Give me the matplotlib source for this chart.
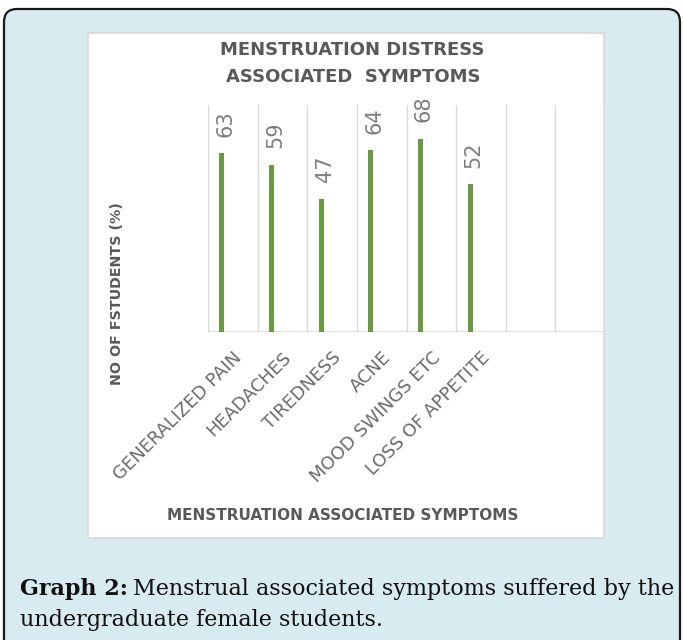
import matplotlib
matplotlib.use("Agg")
import matplotlib.pyplot as plt
from matplotlib.patches import FancyBboxPatch, Rectangle
import numpy as np

# chart data
symptoms = ["GENERALIZED PAIN", "HEADACHES", "TIREDNESS", "ACNE",
            "MOOD SWINGS ETC", "LOSS OF APPETITE"]
percent = [63, 59, 47, 64, 68, 52]
n_slots = 8  # excel left two empty categories on the right

W, H = 683, 640
fig = plt.figure(figsize=(W / 100, H / 100), dpi=100)
fig.patch.set_facecolor("white")

def px(x, y, w, h):  # pixel box (top-left origin) -> figure fraction
    return [x / W, 1 - (y + h) / H, w / W, h / H]

# light blue rounded frame
bg = fig.add_axes([0, 0, 1, 1])
bg.set_xlim(0, W)
bg.set_ylim(H, 0)
bg.axis("off")
bg.add_patch(FancyBboxPatch((4, 9), 676, 680, boxstyle="round,pad=0,rounding_size=13",
                            facecolor="#d7ebf0", edgecolor="#1a1a1a", linewidth=1.6))
# white chart panel
bg.add_patch(Rectangle((88, 33), 516, 505, facecolor="white", edgecolor="#d9d9d9", linewidth=1.2))

grey = "#595959"
bg.text(352, 50, "MENSTRUATION DISTRESS", ha="center", va="center", fontsize=13,
        fontweight="bold", color=grey)
bg.text(353, 77, "ASSOCIATED  SYMPTOMS", ha="center", va="center", fontsize=13,
        fontweight="bold", color=grey)
bg.text(117, 294, "NO OF FSTUDENTS (%)", ha="center", va="center", rotation=90,
        fontsize=10.3, fontweight="bold", color=grey)
bg.text(343, 515, "MENSTRUATION ASSOCIATED SYMPTOMS", ha="center", va="center",
        fontsize=11, fontweight="bold", color=grey)

# caption
cap_font = "DejaVu Serif"
t = bg.text(20, 589, "Graph 2:", ha="left", va="center", fontsize=16, fontweight="bold",
            color="#111111", fontfamily=cap_font)
fig.canvas.draw()
bb = t.get_window_extent()
x_end = bb.x1 * W / fig.bbox.width
bg.text(x_end + 5, 589, "Menstrual associated symptoms suffered by the", ha="left",
        va="center", fontsize=16, color="#111111", fontfamily=cap_font)
bg.text(20, 620, "undergraduate female students.", ha="left", va="center",
        fontsize=16, color="#111111", fontfamily=cap_font)

# plot area
ax = fig.add_axes(px(208, 105, 397, 227))
ax.set_xlim(0, n_slots)
ax.set_ylim(0, 80)
x = np.arange(len(percent)) + 0.28
ax.bar(x, percent, width=0.1, color="#6a9a43")
for xi, v in zip(x, percent):
    ax.annotate(str(v), (xi, v), xytext=(2.5, 12), textcoords="offset points",
                rotation=90, ha="center", va="bottom", fontsize=15, color="#7f7f7f")

for k in range(n_slots + 1):
    ax.axvline(k, color="#d9d9d9", linewidth=1, zorder=0)
ax.axhline(0, color="#d9d9d9", linewidth=1.2, zorder=0)
for s in ax.spines.values():
    s.set_visible(False)
ax.set_yticks([])
ax.set_xticks(np.arange(len(symptoms)) + 0.5)
ax.set_xticklabels(symptoms, rotation=45, ha="right", rotation_mode="anchor",
                   fontsize=13, color="#6a6a6a")
ax.tick_params(axis="x", length=0, pad=12)
ax.patch.set_alpha(0)

fig.savefig("out.png", dpi=100)
